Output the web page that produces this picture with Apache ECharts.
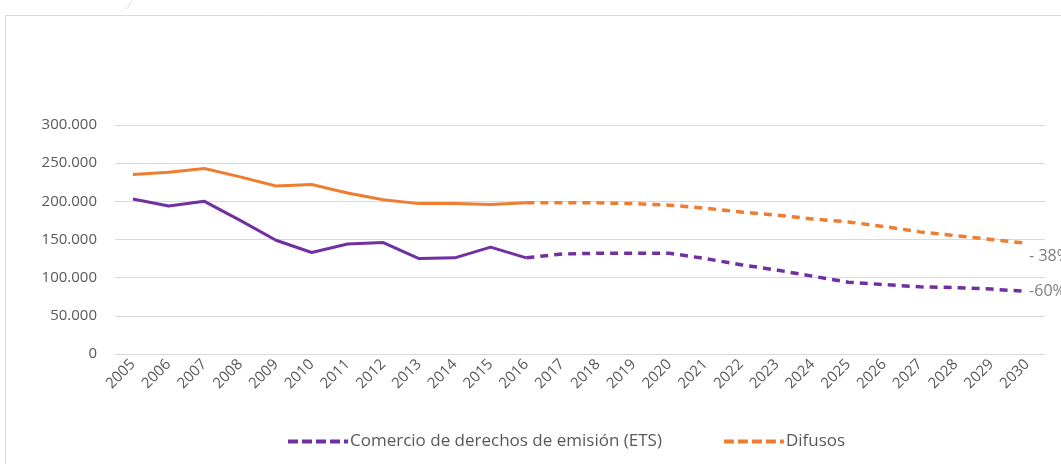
<!DOCTYPE html>
<html>
<head>
<meta charset="utf-8">
<script src="https://cdn.jsdelivr.net/npm/echarts@6/dist/echarts.min.js"></script>
<style>
  html, body { margin: 0; padding: 0; background: #fff; }
  #chart { width: 1061px; height: 464px; }
</style>
</head>
<body>
<div id="chart"></div>
<script>
// años
const years = ['2005','2006','2007','2008','2009','2010','2011','2012','2013','2014','2015','2016','2017',
  '2018','2019','2020','2021','2022','2023','2024','2025','2026','2027','2028','2029','2030']
// ETS: histórico 2005-2016, proyección 2016-2030
const etsHist = [203000,194000,200000,175000,149000,133000,144000,146000,125000,126000,140000,126000]
const etsProj = [126000,131000,132000,132000,132000,125000,117000,110000,102000,94000,91000,88000,87000,85000,82000]
// Difusos
const difHist = [235000,238000,243000,232000,220000,222000,211000,202000,197000,197000,196000,198000]
const difProj = [198000,198000,198000,197000,195000,191000,186000,182000,177000,173000,167000,160000,155000,150000,145000]
const endLabels = ['-60%', '- 38%']

const purple = '#7030A0'
const orange = '#ED7D31'
const histStart = 0
const projStart = etsHist.length - 1

function pad(arr, start) {
    let out = years.map(() => null)
    arr.forEach((v, i) => { out[start + i] = v })
    return out
}

const dashIcon = 'path://M0,0h10v4h-10z M14,0h10v4h-10z M28,0h10v4h-10z M42,0h10v4h-10z M56,0h4v4h-4z'

let chartDom = document.getElementById('chart')
let myChart = echarts.init(chartDom)
const option = {
    animation: false,
    textStyle: { fontFamily: 'Open Sans' },
    graphic: [
        {
            type: 'rect',
            shape: { x: 5.5, y: 15.5, width: 1070, height: 470 },
            style: { fill: 'none', stroke: '#d9d9d9', lineWidth: 1 },
        },
        {
            type: 'line',
            shape: { x1: 132, y1: 0, x2: 127, y2: 9 },
            style: { stroke: '#dddddd', lineWidth: 1 },
        },
    ],
    grid: { left: 115, right: 16, top: 125, bottom: 110 },
    legend: {
        bottom: 9,
        left: 283,
        itemGap: 62,
        itemWidth: 60,
        itemHeight: 4,
        data: [
            { name: 'Comercio de derechos de emisión (ETS)', icon: dashIcon },
            { name: 'Difusos', icon: dashIcon },
        ],
        textStyle: { color: '#595959', fontSize: 17, fontFamily: 'Open Sans', padding: [0, 0, 0, -3] },
    },
    xAxis: {
        type: 'category',
        data: years,
        boundaryGap: true,
        axisLine: { lineStyle: { color: '#d9d9d9' } },
        axisTick: { show: false },
        axisLabel: { rotate: 45, color: '#595959', fontSize: 15, interval: 0, margin: 8 },
    },
    yAxis: {
        type: 'value',
        min: 0,
        max: 300000,
        interval: 50000,
        axisLine: { show: false },
        axisTick: { show: false },
        splitLine: { lineStyle: { color: '#d9d9d9' } },
        axisLabel: {
            color: '#595959',
            fontSize: 15,
            margin: 18,
            formatter: (v) => v === 0 ? '0' : String(v).replace(/\B(?=(\d{3})+(?!\d))/g, '.'),
        },
    },
    series: [
        {
            name: 'ETS hist',
            type: 'line',
            data: pad(etsHist, histStart),
            showSymbol: false,
            lineStyle: { color: purple, width: 3 },
            itemStyle: { color: purple },
        },
        {
            name: 'Difusos hist',
            type: 'line',
            data: pad(difHist, histStart),
            showSymbol: false,
            lineStyle: { color: orange, width: 3 },
            itemStyle: { color: orange },
        },
        {
            name: 'Comercio de derechos de emisión (ETS)',
            type: 'line',
            data: pad(etsProj, projStart),
            showSymbol: false,
            lineStyle: { color: purple, width: 3.5, type: [8, 6] },
            itemStyle: { color: purple },
            endLabel: {
                show: true,
                formatter: endLabels[0],
                color: '#7f7f7f',
                fontSize: 16,
                distance: 2,
            },
        },
        {
            name: 'Difusos',
            type: 'line',
            data: pad(difProj, projStart),
            showSymbol: false,
            lineStyle: { color: orange, width: 3.5, type: [8, 6] },
            itemStyle: { color: orange },
            endLabel: {
                show: true,
                formatter: endLabels[1],
                color: '#7f7f7f',
                fontSize: 16,
                distance: 2,
                offset: [0, 13],
            },
        },
    ],
}
myChart.setOption(option)
window.addEventListener('resize', myChart.resize)
</script>
</body>
</html>
